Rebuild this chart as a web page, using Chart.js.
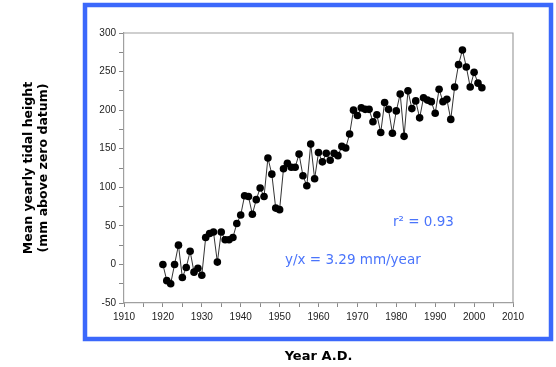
<!DOCTYPE html>
<html>
<head>
<meta charset="utf-8">
<script src="https://cdn.jsdelivr.net/npm/chart.js@4/dist/chart.umd.min.js"></script>
<style>
html,body{margin:0;padding:0;background:#fff;}
#wrap{width:556px;height:367px;position:relative;}
</style>
</head>
<body>
<div id="wrap"><canvas id="c" width="556" height="367"></canvas></div>
<script>
const years = [1920,1921,1922,1923,1924,1925,1926,1927,1928,1929,
  1930,1931,1932,1933,1934,1935,1936,1937,1938,1939,
  1940,1941,1942,1943,1944,1945,1946,1947,1948,1949,
  1950,1951,1952,1953,1954,1955,1956,1957,1958,1959,
  1960,1961,1962,1963,1964,1965,1966,1967,1968,1969,
  1970,1971,1972,1973,1974,1975,1976,1977,1978,1979,
  1980,1981,1982,1983,1984,1985,1986,1987,1988,1989,
  1990,1991,1992,1993,1994,1995,1996,1997,1998,1999,
  2000,2001,2002];
const heights = [0,-21,-25,0,25,-17,-4,17,-10,-5,
  -14,35,40,42,3,42,32,32,35,53,
  64,89,88,65,84,99,88,138,117,73,
  71,124,131,126,126,143,115,102,156,111,
  145,133,144,135,144,141,153,151,169,200,
  193,203,201,201,185,194,171,210,201,170,
  199,221,166,225,202,212,190,216,213,211,
  196,227,211,214,188,230,259,278,256,230,
  249,235,229];
const xTickLabels = [1910,1920,1930,1940,1950,1960,1970,1980,1990,2000,2010];
const yTickLabels = [-50,0,50,100,150,200,250,300];
const yTitle = ['Mean yearly tidal height','(mm above zero datum)'];
const xTitle = 'Year A.D.';
const notes = ['r\u00B2 = 0.93','y/x = 3.29 mm/year'];

const decor = {
  id:'decor',
  beforeDraw(chart){
    const ctx = chart.ctx;
    ctx.save();
    ctx.fillStyle='#fff';
    ctx.fillRect(0,0,chart.width,chart.height);
    ctx.strokeStyle='#3b68fb';
    ctx.lineWidth=4.5;
    ctx.strokeRect(85,5,466,334);
    ctx.restore();
  },
  afterDatasetsDraw(chart){
    const ctx = chart.ctx, a = chart.chartArea;
    ctx.save();
    ctx.strokeStyle='#a0a0a0';
    ctx.lineWidth=1.2;
    ctx.beginPath();
    ctx.moveTo(a.left,a.top);ctx.lineTo(a.right,a.top);ctx.lineTo(a.right,a.bottom);
    ctx.stroke();
    ctx.fillStyle='#4a74fb';
    ctx.font='13.5px "DejaVu Sans"';
    ctx.textBaseline='middle';
    ctx.textAlign='left';
    ctx.fillText(notes[0],393,222);
    ctx.fillText(notes[1],285,260);
    ctx.restore();
  }
};

new Chart(document.getElementById('c'),{
  type:'line',
  data:{datasets:[{
    data: years.map((y,i)=>({x:y,y:heights[i]})),
    borderColor:'#333',
    borderWidth:1,
    pointBackgroundColor:'#000',
    pointBorderColor:'#000',
    pointRadius:3.8,
    pointBorderWidth:0,
    tension:0
  }]},
  options:{
    responsive:false,
    animation:false,
    devicePixelRatio:1,
    layout:{padding:{top:33,right:43,left:0,bottom:0}},
    plugins:{legend:{display:false},tooltip:{enabled:false}},
    scales:{
      x:{type:'linear',min:1910,max:2010,
        afterFit(s){s.height=64;},
        ticks:{stepSize:5,autoSkip:false,maxRotation:0,padding:4,color:'#222',
          font:{family:'"Liberation Sans", Arial',size:10},
          callback:(v)=> xTickLabels.includes(v)?String(v):''},
        grid:{drawOnChartArea:false,tickLength:4,color:'#888',tickColor:'#888'},
        border:{color:'#a0a0a0',width:1.2},
        title:{display:true,text:xTitle,color:'#000',font:{family:'"DejaVu Sans"',size:13,weight:'bold'},padding:{top:0,bottom:3}}
      },
      y:{type:'linear',min:-50,max:300,
        afterFit(s){s.width=124;},
        ticks:{stepSize:25,autoSkip:false,padding:3,color:'#222',
          font:{family:'"Liberation Sans", Arial',size:10},
          callback:(v)=> yTickLabels.includes(v)?String(v):''},
        grid:{drawOnChartArea:false,tickLength:5,color:'#888',tickColor:'#888'},
        border:{color:'#a0a0a0',width:1.2},
        title:{display:true,text:yTitle,color:'#000',font:{family:'"DejaVu Sans"',size:12.5,weight:'bold'},padding:{top:21,bottom:0}}
      }
    }
  },
  plugins:[decor]
});
</script>
</body>
</html>
